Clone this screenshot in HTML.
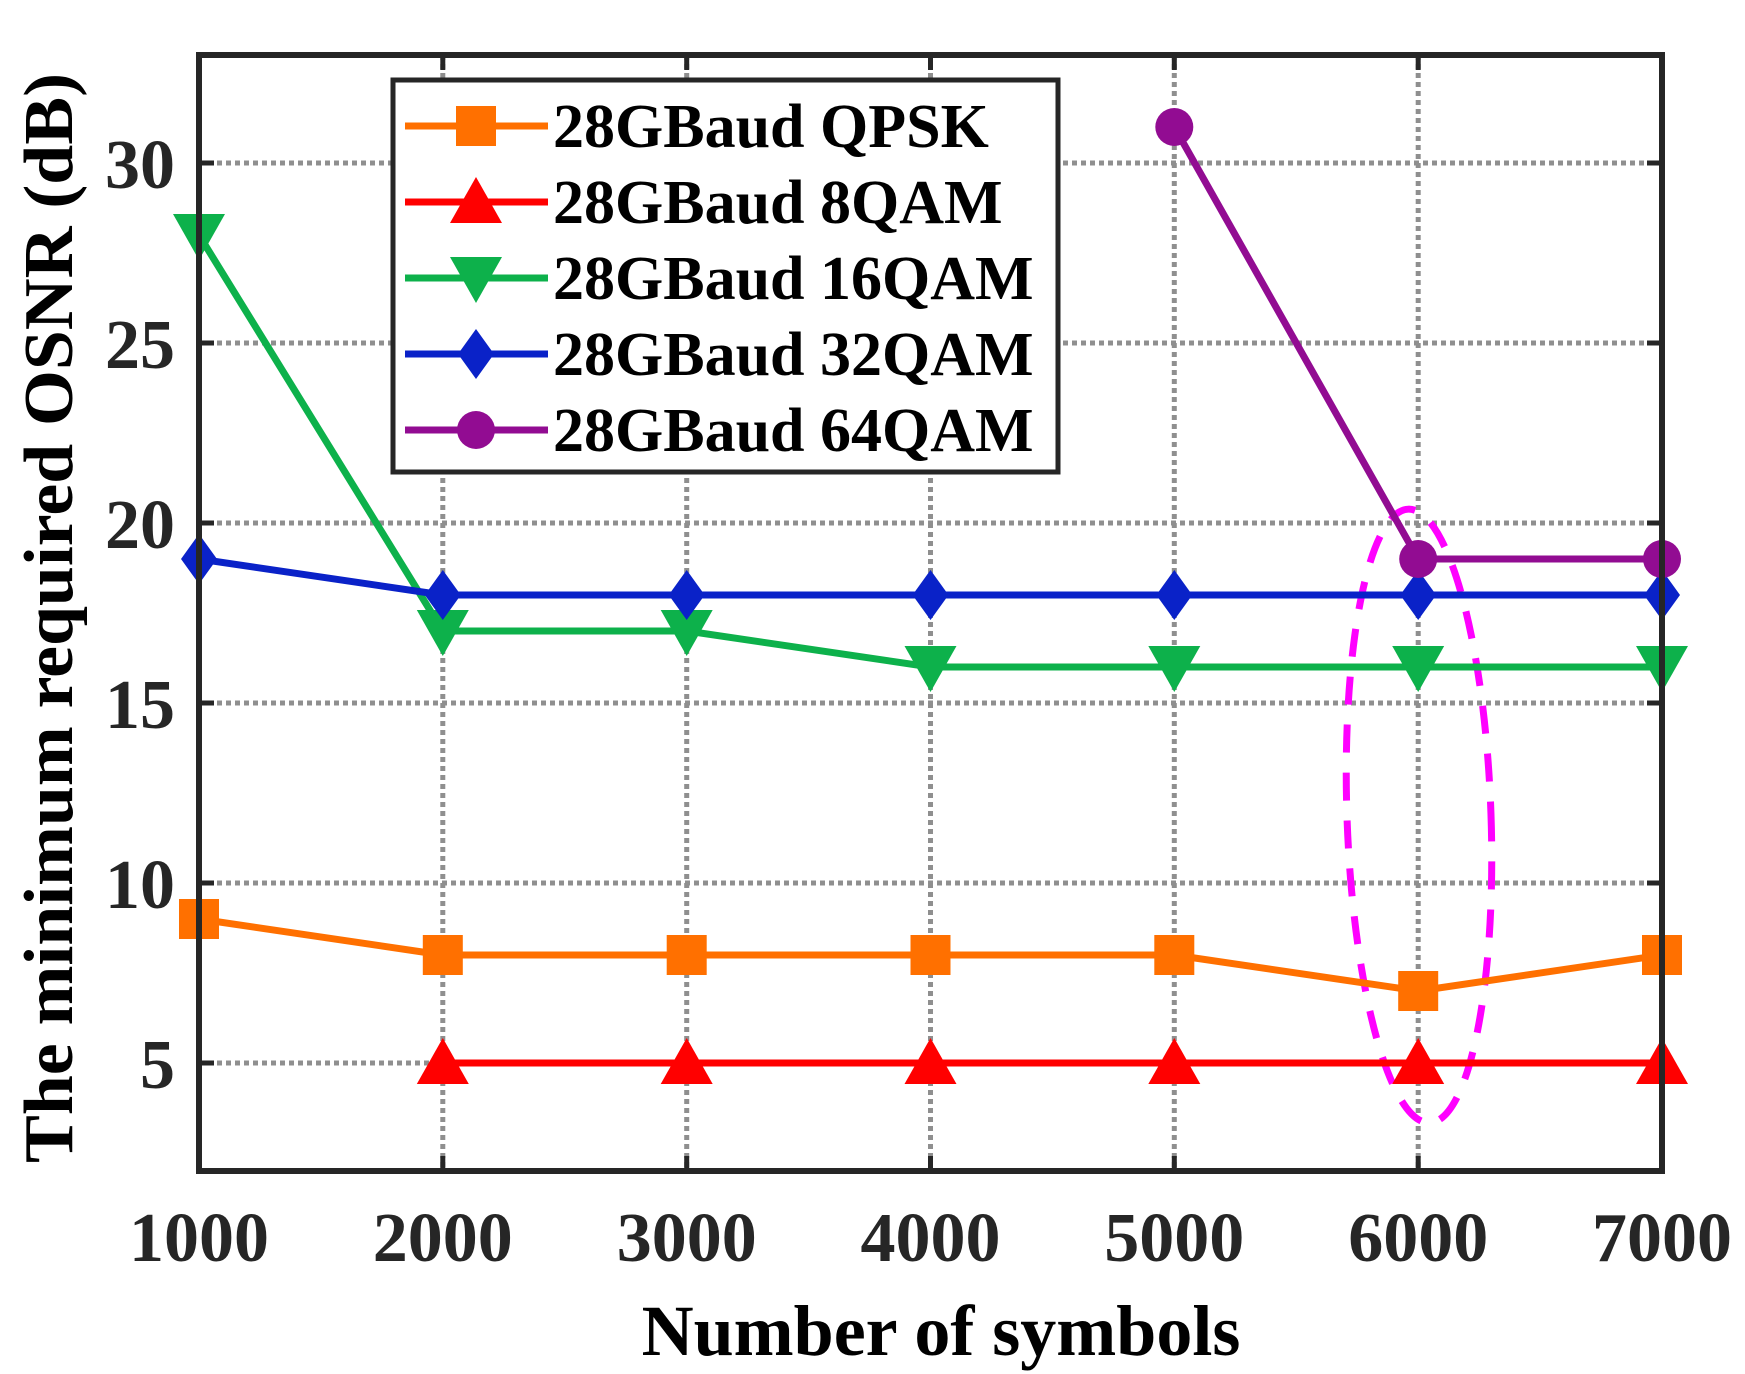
<!DOCTYPE html>
<html><head><meta charset="utf-8"><style>
html,body{margin:0;padding:0;background:#fff;}
svg{display:block;}
text{font-family:"Liberation Serif",serif;font-weight:bold;fill:#262626;}
</style></head><body>
<svg width="1745" height="1374" viewBox="0 0 1745 1374" xmlns="http://www.w3.org/2000/svg">
<defs>
<rect id="sq" x="-20" y="-20" width="40" height="40" fill="#FF7000"/>
<polygon id="tu" points="0,-25 26,21 -26,21" fill="#FF0000"/>
<polygon id="td" points="0,25 26,-21 -26,-21" fill="#0DB14B"/>
<polygon id="di" points="0,-25 18,0 0,25 -18,0" fill="#0A22C8"/>
<circle id="ci" r="19" fill="#920C92"/>
</defs>
<g stroke="#8f8f8f" stroke-width="5" stroke-dasharray="5,4" fill="none">
<line x1="199" y1="163" x2="1662" y2="163"/>
<line x1="199" y1="343" x2="1662" y2="343"/>
<line x1="199" y1="523" x2="1662" y2="523"/>
<line x1="199" y1="703" x2="1662" y2="703"/>
<line x1="199" y1="883" x2="1662" y2="883"/>
<line x1="199" y1="1063" x2="1662" y2="1063"/>
<line x1="442.8" y1="55" x2="442.8" y2="1171"/>
<line x1="686.7" y1="55" x2="686.7" y2="1171"/>
<line x1="930.5" y1="55" x2="930.5" y2="1171"/>
<line x1="1174.3" y1="55" x2="1174.3" y2="1171"/>
<line x1="1418.2" y1="55" x2="1418.2" y2="1171"/>
</g>
<g stroke="#262626" stroke-width="5">
<line x1="199" y1="163" x2="214" y2="163"/><line x1="199" y1="343" x2="214" y2="343"/>
<line x1="199" y1="523" x2="214" y2="523"/><line x1="199" y1="703" x2="214" y2="703"/>
<line x1="199" y1="883" x2="214" y2="883"/><line x1="199" y1="1063" x2="214" y2="1063"/>
<line x1="1662" y1="163" x2="1647" y2="163"/><line x1="1662" y1="343" x2="1647" y2="343"/>
<line x1="1662" y1="523" x2="1647" y2="523"/><line x1="1662" y1="703" x2="1647" y2="703"/>
<line x1="1662" y1="883" x2="1647" y2="883"/><line x1="1662" y1="1063" x2="1647" y2="1063"/>
<line x1="442.8" y1="1171" x2="442.8" y2="1156"/><line x1="686.7" y1="1171" x2="686.7" y2="1156"/>
<line x1="930.5" y1="1171" x2="930.5" y2="1156"/><line x1="1174.3" y1="1171" x2="1174.3" y2="1156"/>
<line x1="1418.2" y1="1171" x2="1418.2" y2="1156"/>
<line x1="442.8" y1="55" x2="442.8" y2="70"/><line x1="686.7" y1="55" x2="686.7" y2="70"/>
<line x1="930.5" y1="55" x2="930.5" y2="70"/><line x1="1174.3" y1="55" x2="1174.3" y2="70"/>
<line x1="1418.2" y1="55" x2="1418.2" y2="70"/>
</g>
<ellipse cx="1419" cy="816" rx="72" ry="307" fill="none" stroke="#FF00FF" stroke-width="7" stroke-dasharray="28,20" transform="rotate(-2 1419 816)"/>
<g fill="none" stroke-width="7" stroke-linejoin="round">
<polyline stroke="#FF7000" points="199,919 442.8,955 686.7,955 930.5,955 1174.3,955 1418.2,991 1662,955"/>
<polyline stroke="#FF0000" points="442.8,1063 686.7,1063 930.5,1063 1174.3,1063 1418.2,1063 1662,1063"/>
<polyline stroke="#0DB14B" points="199,235 442.8,631 686.7,631 930.5,667 1174.3,667 1418.2,667 1662,667"/>
<polyline stroke="#0A22C8" points="199,559 442.8,595 686.7,595 930.5,595 1174.3,595 1418.2,595 1662,595"/>
<polyline stroke="#920C92" points="1174.3,127 1418.2,559 1662,559"/>
</g>
<use href="#sq" x="199" y="919"/><use href="#sq" x="442.8" y="955"/><use href="#sq" x="686.7" y="955"/><use href="#sq" x="930.5" y="955"/><use href="#sq" x="1174.3" y="955"/><use href="#sq" x="1418.2" y="991"/><use href="#sq" x="1662" y="955"/>
<use href="#tu" x="442.8" y="1063"/><use href="#tu" x="686.7" y="1063"/><use href="#tu" x="930.5" y="1063"/><use href="#tu" x="1174.3" y="1063"/><use href="#tu" x="1418.2" y="1063"/><use href="#tu" x="1662" y="1063"/>
<use href="#td" x="199" y="235"/><use href="#td" x="442.8" y="631"/><use href="#td" x="686.7" y="631"/><use href="#td" x="930.5" y="667"/><use href="#td" x="1174.3" y="667"/><use href="#td" x="1418.2" y="667"/><use href="#td" x="1662" y="667"/>
<use href="#di" x="199" y="559"/><use href="#di" x="442.8" y="595"/><use href="#di" x="686.7" y="595"/><use href="#di" x="930.5" y="595"/><use href="#di" x="1174.3" y="595"/><use href="#di" x="1418.2" y="595"/><use href="#di" x="1662" y="595"/>
<use href="#ci" x="1174.3" y="127"/><use href="#ci" x="1418.2" y="559"/><use href="#ci" x="1662" y="559"/>
<rect x="199" y="55" width="1463" height="1116" fill="none" stroke="#262626" stroke-width="6"/>
<rect x="393" y="80" width="665" height="392" fill="#fff" stroke="#262626" stroke-width="5"/>
<g stroke-width="7">
<line x1="405" y1="126" x2="548" y2="126" stroke="#FF7000"/>
<line x1="405" y1="202" x2="548" y2="202" stroke="#FF0000"/>
<line x1="405" y1="278" x2="548" y2="278" stroke="#0DB14B"/>
<line x1="405" y1="354" x2="548" y2="354" stroke="#0A22C8"/>
<line x1="405" y1="430" x2="548" y2="430" stroke="#920C92"/>
</g>
<use href="#sq" x="476" y="126"/><use href="#tu" x="476" y="202"/><use href="#td" x="476" y="278"/><use href="#di" x="476" y="354"/><use href="#ci" x="476" y="430"/>
<g font-size="62" fill="#000">
<text x="553" y="147" style="fill:#000">28GBaud QPSK</text>
<text x="553" y="223" style="fill:#000">28GBaud 8QAM</text>
<text x="553" y="299" style="fill:#000">28GBaud 16QAM</text>
<text x="553" y="375" style="fill:#000">28GBaud 32QAM</text>
<text x="553" y="451" style="fill:#000">28GBaud 64QAM</text>
</g>
<g font-size="70" text-anchor="end">
<text x="175" y="188">30</text>
<text x="175" y="368">25</text>
<text x="175" y="548">20</text>
<text x="175" y="728">15</text>
<text x="175" y="908">10</text>
<text x="175" y="1088">5</text>
</g>
<g font-size="70" text-anchor="middle">
<text x="199" y="1261">1000</text>
<text x="442.8" y="1261">2000</text>
<text x="686.7" y="1261">3000</text>
<text x="930.5" y="1261">4000</text>
<text x="1174.3" y="1261">5000</text>
<text x="1418.2" y="1261">6000</text>
<text x="1662" y="1261">7000</text>
</g>
<text x="941" y="1355" font-size="72" text-anchor="middle" style="fill:#000">Number of symbols</text>
<text transform="translate(72 618) rotate(-90)" font-size="70" text-anchor="middle" textLength="1090" lengthAdjust="spacingAndGlyphs" style="fill:#000">The minimum required OSNR (dB)</text>
</svg>
</body></html>
